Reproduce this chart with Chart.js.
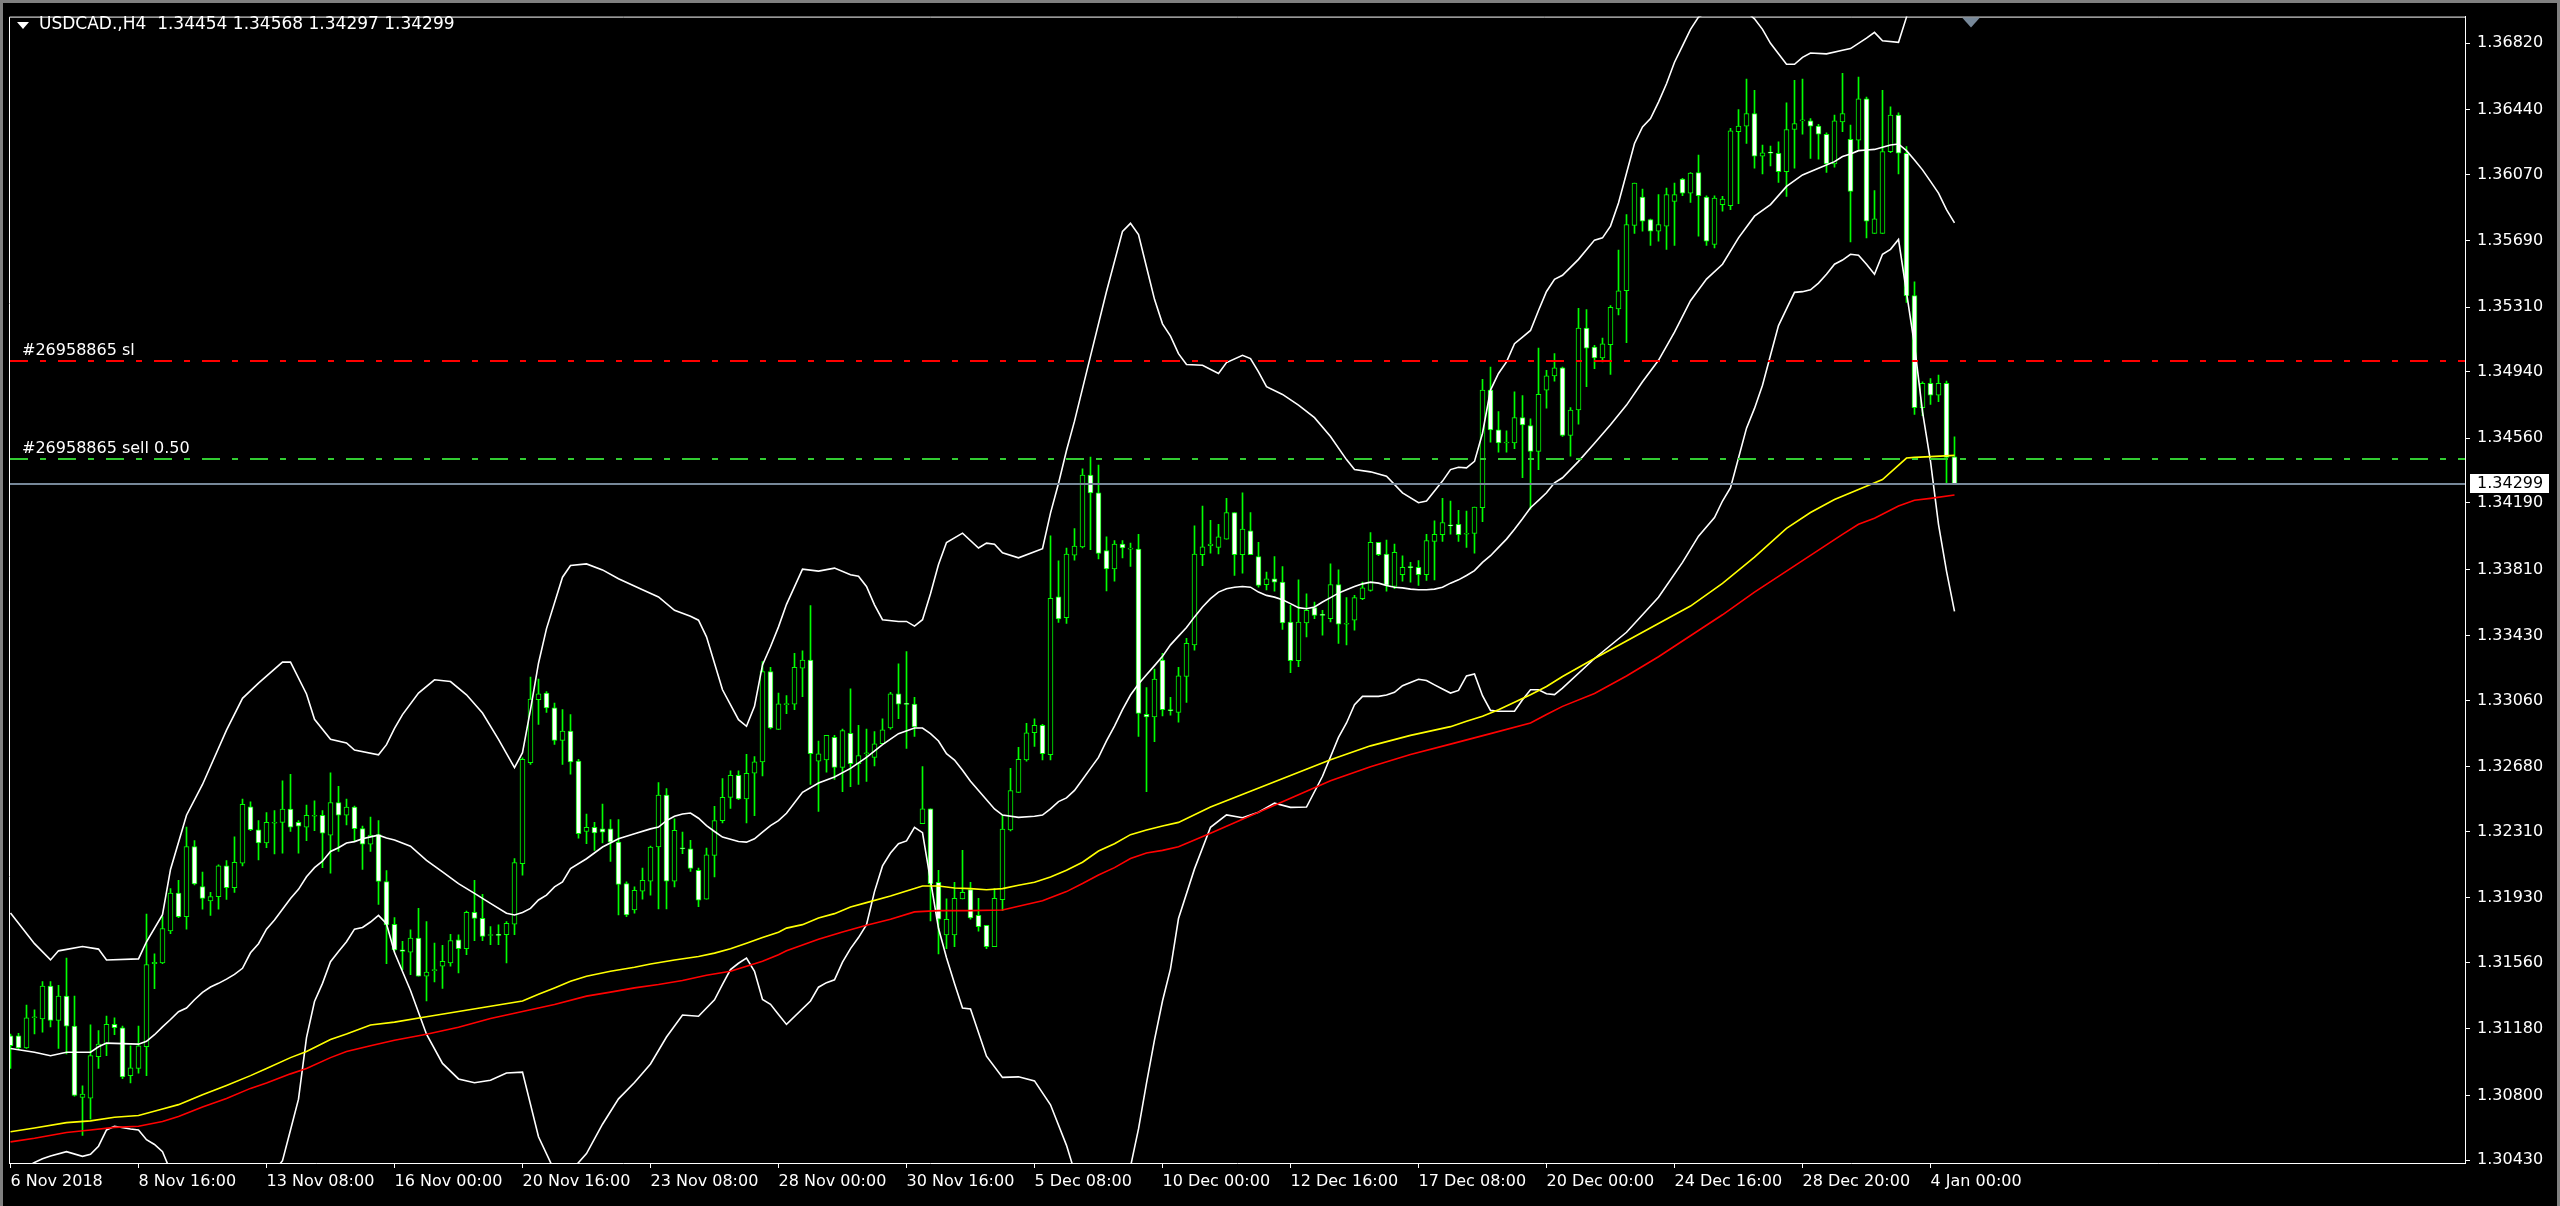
<!DOCTYPE html>
<html>
<head>
<meta charset="utf-8">
<title>USDCAD.,H4</title>
<script src="https://cdn.jsdelivr.net/npm/chart.js@4.4.1/dist/chart.umd.min.js"></script>
<style>
  html, body { margin: 0; padding: 0; background: #000; }
  canvas { display: block; }
</style>
</head>
<body>
<canvas id="chart" width="2560" height="1206"></canvas>
<script>
// header line of the chart window
const symbolTitle = "USDCAD.,H4";
const lastQuote = [1.34454, 1.34568, 1.34297, 1.34299];

// one label every 16 bars (H4)
const xTickLabels = ["6 Nov 2018", "8 Nov 16:00", "13 Nov 08:00", "16 Nov 00:00", "20 Nov 16:00", "23 Nov 08:00",
  "28 Nov 00:00", "30 Nov 16:00", "5 Dec 08:00", "10 Dec 00:00", "12 Dec 16:00", "17 Dec 08:00",
  "20 Dec 00:00", "24 Dec 16:00", "28 Dec 20:00", "4 Jan 00:00"];
const yTickValues = [1.36820, 1.36440, 1.36070, 1.35690, 1.35310, 1.34940, 1.34560, 1.34190, 1.33810,
  1.33430, 1.33060, 1.32680, 1.32310, 1.31930, 1.31560, 1.31180, 1.30800, 1.30430];

// candles, bar 0 = 6 Nov 2018 00:00
const opens = [1.31140,1.31140,1.31072,1.31244,1.31238,1.31426,1.31229,1.31368,1.31196,1.30788,
1.30784,1.31022,1.31093,1.31207,1.31186,1.30913,1.30954,1.31078,1.31554,1.31558,
1.31741,1.31958,1.31823,1.32223,1.31995,1.31912,1.31937,1.32113,1.31989,1.32128,
1.32451,1.32320,1.32244,1.32357,1.32362,1.32438,1.32362,1.32335,1.32397,1.32403,
1.32289,1.32476,1.32403,1.32449,1.32326,1.32237,1.32293,1.32024,1.31779,1.31633,
1.31620,1.31700,1.31482,1.31514,1.31539,1.31558,1.31690,1.31639,1.31847,1.31813,
1.31715,1.31722,1.31719,1.31779,1.32126,1.32704,1.33064,1.33102,1.33017,1.32831,
1.32884,1.32713,1.32310,1.32334,1.32325,1.32325,1.32249,1.32012,1.31861,1.31969,
1.32026,1.32221,1.32518,1.32026,1.32215,1.32211,1.32088,1.31923,1.32173,1.32372,
1.32505,1.32632,1.32496,1.32643,1.32708,1.33225,1.32894,1.33036,1.33039,1.33245,
1.33291,1.32713,1.32719,1.32849,1.32677,1.32871,1.32698,1.32755,1.32734,1.32812,
1.32902,1.33098,1.33039,1.33039,1.32355,1.32439,1.32019,1.31718,1.31718,1.31924,
1.31977,1.31830,1.31773,1.31651,1.31920,1.32319,1.32534,1.32719,1.32875,1.32917,
1.32749,1.33653,1.33533,1.33891,1.33939,1.34349,1.34248,1.33918,1.33813,1.33954,
1.33926,1.33926,1.32980,1.32965,1.33291,1.33007,1.32992,1.33197,1.33377,1.33894,
1.33945,1.33936,1.33983,1.34135,1.33894,1.34030,1.33883,1.33723,1.33756,1.33737,
1.33509,1.33288,1.33504,1.33591,1.33551,1.33528,1.33723,1.33496,1.33519,1.33642,
1.33689,1.33964,1.33898,1.33712,1.33780,1.33822,1.33822,1.33780,1.33970,1.34008,
1.34064,1.34068,1.34011,1.34015,1.34163,1.34836,1.34608,1.34533,1.34533,1.34678,
1.34633,1.34485,1.34836,1.34917,1.34963,1.34576,1.34722,1.35190,1.35082,1.35020,
1.35095,1.35300,1.35404,1.35778,1.35940,1.35812,1.35745,1.35774,1.35916,1.36043,
1.35963,1.36081,1.35940,1.35669,1.35897,1.35891,1.36314,1.36346,1.36418,1.36175,
1.36194,1.36191,1.36086,1.36327,1.36376,1.36376,1.36346,1.36300,1.36130,1.36371,
1.36270,1.36266,1.36503,1.35732,1.35732,1.36200,1.36409,1.36191,1.35376,1.34735,
1.34874,1.34807,1.34874,1.34454];
const highs = [1.31151,1.31155,1.31316,1.31289,1.31451,1.31451,1.31430,1.31585,1.31368,1.30855,
1.31203,1.31171,1.31254,1.31244,1.31196,1.31084,1.31196,1.31838,1.31610,1.31823,
1.31983,1.32030,1.32335,1.32258,1.32078,1.31962,1.32119,1.32144,1.32279,1.32496,
1.32480,1.32372,1.32418,1.32430,1.32600,1.32637,1.32372,1.32461,1.32486,1.32430,
1.32645,1.32569,1.32496,1.32455,1.32341,1.32393,1.32372,1.32086,1.31817,1.31681,
1.31747,1.31870,1.31794,1.31671,1.31658,1.31722,1.31719,1.31855,1.32031,1.31950,
1.31766,1.31776,1.31794,1.32155,1.32732,1.33193,1.33182,1.33111,1.33045,1.33007,
1.32979,1.32723,1.32410,1.32363,1.32467,1.32378,1.32378,1.32022,1.31993,1.32101,
1.32226,1.32590,1.32556,1.32382,1.32306,1.32259,1.32101,1.32215,1.32454,1.32613,
1.32657,1.32657,1.32751,1.32738,1.33282,1.33250,1.33102,1.33087,1.33329,1.33344,
1.33602,1.32828,1.32860,1.32860,1.32896,1.33127,1.32917,1.32896,1.32881,1.32955,
1.33106,1.33270,1.33339,1.33077,1.32681,1.32439,1.32088,1.31924,1.32019,1.32202,
1.32019,1.31928,1.31773,1.31983,1.32404,1.32671,1.32791,1.32929,1.32955,1.32923,
1.34002,1.33859,1.33932,1.34044,1.34385,1.34452,1.34406,1.33996,1.33975,1.33975,
1.33960,1.34010,1.33133,1.33239,1.33329,1.33077,1.33250,1.33415,1.34059,1.34172,
1.34091,1.34068,1.34216,1.34135,1.34248,1.34135,1.33964,1.33794,1.33883,1.33826,
1.33604,1.33750,1.33670,1.33623,1.33576,1.33841,1.33807,1.33648,1.33661,1.33737,
1.34021,1.33964,1.33977,1.33955,1.33888,1.33850,1.33860,1.34011,1.34087,1.34216,
1.34201,1.34148,1.34144,1.34167,1.34898,1.34968,1.34713,1.34603,1.34826,1.34804,
1.34671,1.35076,1.34949,1.35044,1.34968,1.34735,1.35304,1.35296,1.35092,1.35133,
1.35319,1.35637,1.35840,1.36020,1.35986,1.35815,1.35954,1.35992,1.36020,1.36048,
1.36081,1.36181,1.35948,1.35948,1.35944,1.36333,1.36441,1.36615,1.36551,1.36238,
1.36232,1.36257,1.36479,1.36608,1.36615,1.36390,1.36357,1.36308,1.36409,1.36649,
1.36352,1.36627,1.36513,1.35978,1.36551,1.36456,1.36422,1.36229,1.35455,1.34883,
1.34902,1.34921,1.34887,1.34568];
const lows = [1.30954,1.31064,1.31068,1.31151,1.31161,1.31192,1.31068,1.31037,1.30795,1.30571,
1.30664,1.30954,1.31027,1.31147,1.30896,1.30871,1.30927,1.30913,1.31410,1.31554,
1.31726,1.31817,1.31751,1.32004,1.31865,1.31830,1.31865,1.31921,1.31962,1.32113,
1.32314,1.32148,1.32217,1.32182,1.32186,1.32310,1.32186,1.32258,1.32314,1.32103,
1.32072,1.32196,1.32347,1.32258,1.32093,1.32196,1.31892,1.31554,1.31624,1.31520,
1.31491,1.31482,1.31340,1.31449,1.31412,1.31539,1.31501,1.31605,1.31685,1.31685,
1.31662,1.31662,1.31558,1.31719,1.32060,1.32694,1.32922,1.32992,1.32808,1.32694,
1.32638,1.32272,1.32240,1.32202,1.32245,1.32139,1.31832,1.31823,1.31842,1.31923,
1.31946,1.31867,1.31867,1.31993,1.32183,1.32082,1.31880,1.31923,1.32050,1.32359,
1.32442,1.32492,1.32359,1.32401,1.32628,1.32897,1.32894,1.32984,1.33007,1.33081,
1.32580,1.32425,1.32650,1.32608,1.32538,1.32566,1.32580,1.32597,1.32685,1.32812,
1.32896,1.32955,1.32786,1.32854,1.32355,1.31798,1.31609,1.31640,1.31651,1.31924,
1.31808,1.31739,1.31640,1.31651,1.31857,1.32313,1.32534,1.32713,1.32797,1.32719,
1.32719,1.33506,1.33501,1.33863,1.33932,1.33922,1.33869,1.33686,1.33743,1.33876,
1.33827,1.32854,1.32538,1.32824,1.32971,1.32976,1.32935,1.33049,1.33348,1.33831,
1.33902,1.33898,1.33983,1.33775,1.33788,1.33894,1.33708,1.33693,1.33685,1.33466,
1.33219,1.33253,1.33424,1.33528,1.33434,1.33509,1.33386,1.33377,1.33462,1.33636,
1.33685,1.33888,1.33685,1.33699,1.33742,1.33737,1.33718,1.33746,1.33750,1.33970,
1.34011,1.33970,1.33936,1.33902,1.34083,1.34538,1.34481,1.34481,1.34500,1.34334,
1.34154,1.34381,1.34732,1.34887,1.34571,1.34457,1.34641,1.34855,1.34959,1.34997,
1.34925,1.35266,1.35107,1.35732,1.35745,1.35664,1.35688,1.35641,1.35664,1.35948,
1.35910,1.35717,1.35664,1.35650,1.35859,1.35868,1.35903,1.36247,1.36105,1.36073,
1.36119,1.36024,1.35944,1.36105,1.36300,1.36162,1.36157,1.36081,1.36111,1.36314,
1.35683,1.36213,1.35707,1.35732,1.35732,1.36194,1.36073,1.35338,1.34697,1.34690,
1.34754,1.34769,1.34299,1.34297];
const closes = [1.31084,1.31072,1.31244,1.31250,1.31426,1.31229,1.31368,1.31196,1.30799,1.30807,
1.31027,1.31093,1.31207,1.31188,1.30906,1.30958,1.31084,1.31548,1.31561,1.31755,
1.31958,1.31823,1.32223,1.32010,1.31927,1.31937,1.32113,1.31989,1.32134,1.32465,
1.32320,1.32244,1.32362,1.32362,1.32438,1.32335,1.32341,1.32403,1.32403,1.32300,
1.32476,1.32403,1.32449,1.32326,1.32237,1.32289,1.32024,1.31776,1.31633,1.31624,
1.31700,1.31482,1.31506,1.31520,1.31567,1.31686,1.31639,1.31847,1.31813,1.31709,
1.31717,1.31715,1.31785,1.32132,1.32723,1.33068,1.33098,1.33017,1.32831,1.32884,
1.32708,1.32297,1.32334,1.32302,1.32306,1.32249,1.32007,1.31832,1.31974,1.32031,
1.32221,1.32518,1.32026,1.32316,1.32211,1.32098,1.31917,1.32177,1.32372,1.32505,
1.32632,1.32496,1.32643,1.32708,1.33225,1.32903,1.33041,1.33041,1.33249,1.33291,
1.32755,1.32755,1.32860,1.32677,1.32887,1.32698,1.32744,1.32759,1.32812,1.32892,
1.33098,1.33039,1.33037,1.32908,1.32439,1.32012,1.31808,1.31808,1.31928,1.31962,
1.31815,1.31766,1.31651,1.31928,1.32324,1.32544,1.32723,1.32875,1.32917,1.32755,
1.33644,1.33527,1.33897,1.33943,1.34349,1.34248,1.33901,1.33813,1.33954,1.33932,
1.33928,1.32986,1.32965,1.33182,1.33007,1.33001,1.33200,1.33386,1.33898,1.33939,
1.33955,1.33996,1.34135,1.33894,1.34040,1.33894,1.33718,1.33756,1.33737,1.33504,
1.33288,1.33509,1.33576,1.33547,1.33547,1.33723,1.33496,1.33498,1.33648,1.33704,
1.33964,1.33894,1.33718,1.33907,1.33822,1.33820,1.33780,1.33974,1.34011,1.34078,
1.34059,1.34008,1.34013,1.34167,1.34836,1.34608,1.34533,1.34535,1.34678,1.34637,
1.34485,1.34811,1.34917,1.34963,1.34576,1.34722,1.35190,1.35076,1.35020,1.35101,
1.35309,1.35404,1.35783,1.36020,1.35802,1.35745,1.35783,1.35954,1.35954,1.35963,
1.36077,1.35948,1.35688,1.35935,1.35929,1.36319,1.36346,1.36418,1.36175,1.36194,
1.36192,1.36086,1.36327,1.36361,1.36380,1.36346,1.36300,1.36130,1.36376,1.36418,
1.35973,1.36503,1.35802,1.35816,1.36200,1.36409,1.36191,1.35376,1.34735,1.34874,
1.34807,1.34874,1.34451,1.34299];

// indicators as [bar, price]
const bbUpper = [[0,1.31844],[3,1.31668],[5,1.31575],[6,1.31627],[9,1.31652],[11,1.31637],[12,1.31575],[16,1.31581],
[17,1.31679],[19,1.31834],[20,1.32093],[22,1.32403],[24,1.32579],[27,1.32890],[29,1.33072],[31,1.33159],[34,1.33279],
[35,1.33279],[37,1.33097],[38,1.32952],[40,1.32838],[42,1.32817],[43,1.32776],[46,1.32749],[47,1.32807],[48,1.32900],
[49,1.32979],[51,1.33102],[53,1.33178],[55,1.33168],[57,1.33092],[59,1.32988],[61,1.32837],[63,1.32676],[64,1.32761],
[65,1.33007],[66,1.33273],[67,1.33471],[69,1.33765],[70,1.33832],[72,1.33841],[74,1.33807],[76,1.33756],[79,1.33693],
[81,1.33652],[83,1.33576],[85,1.33542],[86,1.33519],[87,1.33424],[88,1.33273],[89,1.33121],[91,1.32950],[92,1.32912],
[93,1.33026],[94,1.33263],[95,1.33367],[96,1.33481],[97,1.33610],[99,1.33811],[101,1.33800],[103,1.33817],[105,1.33779],
[106,1.33771],[107,1.33712],[108,1.33607],[109,1.33522],[111,1.33512],[112,1.33512],[113,1.33485],[114,1.33522],
[115,1.33670],[116,1.33838],[117,1.33964],[119,1.34017],[121,1.33932],[122,1.33960],[123,1.33954],[124,1.33905],
[126,1.33876],[128,1.33911],[129,1.33928],[130,1.34132],[131,1.34301],[132,1.34490],[133,1.34658],[135,1.35030],
[137,1.35400],[139,1.35744],[140,1.35790],[141,1.35726],[142,1.35540],[143,1.35355],[144,1.35215],[145,1.35145],
[146,1.35044],[147,1.34982],[149,1.34978],[151,1.34931],[152,1.34993],[154,1.35035],[155,1.35016],[156,1.34940],
[157,1.34855],[159,1.34811],[161,1.34750],[163,1.34678],[165,1.34570],[167,1.34438],[168,1.34381],[170,1.34368],
[172,1.34343],[174,1.34248],[176,1.34191],[177,1.34201],[178,1.34258],[179,1.34315],[180,1.34381],[181,1.34394],
[182,1.34391],[183,1.34428],[184,1.34589],[185,1.34836],[186,1.34931],[187,1.34997],[188,1.35101],[189,1.35139],
[190,1.35177],[191,1.35291],[192,1.35400],[193,1.35470],[194,1.35493],[196,1.35584],[198,1.35694],[199,1.35707],
[200,1.35774],[201,1.35906],[202,1.36077],[203,1.36247],[204,1.36342],[205,1.36390],[206,1.36484],[207,1.36589],
[208,1.36712],[209,1.36806],[210,1.36900],[211,1.36970],[213,1.37020],[215,1.37030],[217,1.37000],[218,1.36960],
[219,1.36900],[220,1.36820],[221,1.36760],[222,1.36700],[223,1.36700],[224,1.36740],[225,1.36765],[227,1.36760],
[229,1.36780],[230,1.36790],[232,1.36850],[233,1.36883],[234,1.36835],[236,1.36826],[237,1.36970],[238,1.37200],
[239,1.37450],[240,1.37600],[241,1.37800],[243,1.38000]];
const bbMiddle = [[0,1.31068],[3,1.31047],[5,1.31027],[7,1.31047],[10,1.31047],[11,1.31078],[12,1.31099],[16,1.31093],
[17,1.31109],[18,1.31147],[19,1.31192],[20,1.31234],[21,1.31279],[22,1.31300],[23,1.31347],[24,1.31389],[25,1.31420],
[26,1.31441],[27,1.31465],[28,1.31492],[29,1.31527],[30,1.31616],[31,1.31668],[32,1.31751],[33,1.31803],[34,1.31865],
[35,1.31927],[36,1.31979],[37,1.32051],[38,1.32103],[39,1.32140],[40,1.32196],[41,1.32217],[42,1.32244],[43,1.32252],
[44,1.32269],[45,1.32279],[46,1.32289],[47,1.32273],[48,1.32261],[50,1.32226],[52,1.32145],[54,1.32079],[56,1.32012],
[58,1.31956],[60,1.31899],[62,1.31842],[63,1.31832],[64,1.31847],[65,1.31870],[66,1.31918],[67,1.31946],[68,1.31993],
[69,1.32022],[70,1.32098],[72,1.32154],[74,1.32221],[76,1.32268],[78,1.32297],[80,1.32325],[81,1.32335],[82,1.32372],
[83,1.32397],[84,1.32410],[85,1.32416],[86,1.32386],[87,1.32344],[88,1.32310],[89,1.32278],[91,1.32253],[92,1.32249],
[93,1.32268],[94,1.32306],[95,1.32344],[96,1.32372],[97,1.32414],[99,1.32534],[101,1.32587],[103,1.32622],[105,1.32671],
[107,1.32734],[109,1.32807],[111,1.32870],[113,1.32902],[114,1.32902],[115,1.32870],[116,1.32828],[117,1.32755],
[118,1.32719],[119,1.32660],[120,1.32597],[121,1.32545],[122,1.32492],[123,1.32439],[124,1.32404],[126,1.32391],
[128,1.32397],[129,1.32404],[130,1.32439],[131,1.32481],[132,1.32502],[133,1.32545],[134,1.32608],[135,1.32671],
[136,1.32734],[137,1.32828],[138,1.32913],[139,1.33007],[140,1.33091],[141,1.33154],[142,1.33207],[143,1.33259],
[144,1.33312],[145,1.33378],[146,1.33428],[147,1.33477],[148,1.33538],[149,1.33595],[150,1.33642],[151,1.33680],
[152,1.33699],[153,1.33708],[154,1.33712],[155,1.33708],[156,1.33680],[157,1.33661],[158,1.33651],[159,1.33636],
[160,1.33614],[161,1.33591],[162,1.33585],[163,1.33595],[164,1.33623],[165,1.33648],[166,1.33674],[167,1.33693],
[168,1.33712],[169,1.33727],[170,1.33737],[171,1.33731],[172,1.33718],[173,1.33708],[174,1.33704],[175,1.33697],
[176,1.33693],[177,1.33693],[178,1.33697],[179,1.33708],[180,1.33731],[181,1.33750],[182,1.33775],[183,1.33803],
[184,1.33850],[185,1.33888],[186,1.33936],[187,1.33983],[188,1.34040],[189,1.34100],[190,1.34163],[191,1.34205],
[192,1.34248],[193,1.34305],[194,1.34334],[196,1.34428],[198,1.34532],[200,1.34637],[202,1.34750],[204,1.34883],
[206,1.35006],[208,1.35167],[210,1.35347],[212,1.35471],[214,1.35556],[216,1.35707],[218,1.35831],[220,1.35897],
[222,1.36001],[224,1.36067],[226,1.36105],[228,1.36143],[229,1.36172],[230,1.36187],[231,1.36206],[232,1.36210],
[233,1.36213],[234,1.36225],[235,1.36238],[236,1.36244],[237,1.36206],[238,1.36153],[239,1.36096],[240,1.36030],
[241,1.35963],[242,1.35868],[243,1.35793]];
const bbLower = [[0,1.30300],[2,1.30390],[3,1.30416],[4,1.30437],[5,1.30453],[7,1.30478],[9,1.30451],[10,1.30463],
[11,1.30509],[12,1.30602],[13,1.30623],[15,1.30608],[16,1.30602],[17,1.30546],[18,1.30519],[19,1.30478],[20,1.30368],
[22,1.30200],[24,1.30199],[27,1.30040],[29,1.30010],[31,1.30177],[33,1.30370],[34,1.30426],[35,1.30602],[36,1.30778],
[37,1.31130],[38,1.31337],[39,1.31441],[40,1.31565],[41,1.31623],[42,1.31679],[43,1.31751],[44,1.31761],[45,1.31792],
[46,1.31830],[47,1.31782],[48,1.31617],[50,1.31400],[52,1.31150],[54,1.30983],[56,1.30894],[58,1.30872],[60,1.30886],
[62,1.30928],[64,1.30933],[66,1.30563],[68,1.30368],[70,1.30364],[72,1.30467],[74,1.30635],[76,1.30780],[78,1.30874],
[80,1.30980],[82,1.31134],[84,1.31260],[86,1.31253],[88,1.31347],[89,1.31435],[90,1.31520],[91,1.31556],[92,1.31586],
[93,1.31510],[94,1.31349],[95,1.31321],[96,1.31263],[97,1.31206],[100,1.31340],[101,1.31419],[102,1.31445],
[103,1.31461],[104,1.31562],[105,1.31640],[106,1.31703],[107,1.31777],[108,1.31966],[109,1.32113],[110,1.32187],
[111,1.32240],[112,1.32256],[113,1.32334],[114,1.32303],[115,1.32029],[116,1.31756],[117,1.31588],[118,1.31440],
[119,1.31300],[120,1.31294],[122,1.31024],[124,1.30903],[126,1.30906],[128,1.30883],[130,1.30746],[132,1.30514],
[134,1.30216],[136,1.30100],[138,1.30150],[140,1.30392],[141,1.30608],[142,1.30870],[143,1.31118],[144,1.31340],
[145,1.31524],[146,1.31812],[148,1.32096],[150,1.32334],[152,1.32405],[154,1.32389],[156,1.32420],[158,1.32472],
[160,1.32448],[162,1.32450],[164,1.32626],[166,1.32848],[167,1.32931],[168,1.33035],[169,1.33083],[171,1.33083],
[172,1.33091],[173,1.33106],[174,1.33144],[175,1.33163],[176,1.33181],[177,1.33174],[178,1.33149],[179,1.33125],
[180,1.33102],[181,1.33117],[182,1.33200],[183,1.33212],[184,1.33087],[185,1.33003],[186,1.32998],[188,1.32998],
[189,1.33064],[190,1.33121],[191,1.33121],[192,1.33098],[193,1.33093],[194,1.33130],[198,1.33300],[202,1.33450],
[206,1.33650],[209,1.33850],[211,1.34000],[213,1.34106],[214,1.34201],[215,1.34277],[216,1.34447],[217,1.34618],
[218,1.34731],[219,1.34864],[220,1.35035],[221,1.35205],[222,1.35300],[223,1.35395],[224,1.35399],[225,1.35410],
[226,1.35448],[227,1.35499],[228,1.35556],[229,1.35580],[230,1.35613],[231,1.35607],[232,1.35556],[233,1.35499],
[234,1.35613],[235,1.35641],[236,1.35698],[237,1.35395],[238,1.35092],[239,1.34713],[240,1.34428],[241,1.34068],
[242,1.33800],[243,1.33570]];
const maYellow = [[0,1.30592],[3,1.30613],[7,1.30644],[10,1.30654],[13,1.30675],[16,1.30685],[19,1.30722],[21,1.30747],
[24,1.30803],[27,1.30857],[30,1.30913],[32,1.30954],[35,1.31016],[37,1.31051],[40,1.31120],[42,1.31151],[45,1.31203],
[48,1.31219],[52,1.31250],[56,1.31280],[60,1.31310],[64,1.31340],[66,1.31378],[68,1.31415],[70,1.31453],[72,1.31482],
[75,1.31510],[78,1.31533],[80,1.31552],[83,1.31575],[86,1.31595],[88,1.31614],[90,1.31639],[92,1.31671],[94,1.31703],
[96,1.31734],[97,1.31757],[99,1.31777],[101,1.31815],[103,1.31840],[105,1.31878],[107,1.31903],[110,1.31941],
[112,1.31970],[114,1.31998],[116,1.31998],[118,1.31987],[120,1.31983],[122,1.31977],[124,1.31983],[126,1.32002],
[128,1.32019],[130,1.32050],[132,1.32088],[134,1.32134],[136,1.32198],[138,1.32240],[140,1.32292],[142,1.32318],
[144,1.32341],[146,1.32362],[150,1.32450],[155,1.32540],[160,1.32630],[165,1.32720],[170,1.32800],[175,1.32860],
[180,1.32910],[182,1.32941],[184,1.32969],[186,1.33007],[188,1.33049],[190,1.33092],[192,1.33140],[194,1.33197],
[198,1.33300],[202,1.33400],[206,1.33500],[210,1.33600],[214,1.33730],[218,1.33880],[222,1.34045],[225,1.34135],
[228,1.34210],[231,1.34267],[234,1.34324],[237,1.34447],[238,1.34451],[240,1.34455],[243,1.34462]];
const maRed = [[0,1.30534],[3,1.30555],[7,1.30588],[10,1.30602],[13,1.30617],[16,1.30623],[19,1.30650],[21,1.30679],
[24,1.30733],[27,1.30782],[30,1.30840],[32,1.30871],[35,1.30923],[37,1.30954],[40,1.31016],[42,1.31051],[45,1.31084],
[48,1.31115],[52,1.31150],[56,1.31190],[60,1.31240],[64,1.31280],[68,1.31320],[72,1.31368],[75,1.31391],[78,1.31415],
[81,1.31434],[84,1.31457],[87,1.31487],[90,1.31510],[92,1.31539],[94,1.31567],[96,1.31605],[97,1.31627],[99,1.31661],
[101,1.31693],[104,1.31735],[107,1.31773],[110,1.31808],[113,1.31850],[116,1.31857],[120,1.31857],[124,1.31861],
[126,1.31882],[129,1.31914],[132,1.31966],[134,1.32012],[136,1.32061],[138,1.32103],[140,1.32155],[142,1.32187],
[144,1.32202],[146,1.32223],[150,1.32300],[155,1.32400],[160,1.32500],[165,1.32600],[170,1.32680],[175,1.32750],
[180,1.32810],[185,1.32870],[190,1.32931],[192,1.32979],[194,1.33026],[198,1.33100],[202,1.33200],[206,1.33310],
[210,1.33430],[214,1.33550],[218,1.33680],[222,1.33800],[226,1.33920],[229,1.34010],[231,1.34068],[233,1.34102],
[236,1.34172],[238,1.34205],[240,1.34216],[243,1.34235]];

// open order and current bid
const orderTicket = "#26958865";
const slPrice = 1.35000;
const sellPrice = 1.34440;
const sellLots = "0.50";
const bidPrice = 1.34299;

const FONT = '"DejaVu Sans", Arial, sans-serif';
const LIME = "#00ff00";

const toPts = arr => arr.map(([k, v]) => ({ x: k, y: v }));
const lineSet = (label, arr, color) => ({
  type: "line", label, data: toPts(arr), borderColor: color, borderWidth: 1.6,
  pointRadius: 0, tension: 0, fill: false, order: 0
});

const bars = opens.map((o, i) => i);

// everything MT4 draws that is not a series
const mtDecor = {
  id: "mtDecor",
  beforeDraw(chart) {
    const c = chart.ctx;
    c.save();
    c.fillStyle = "#000";
    c.fillRect(0, 0, chart.width, chart.height);
    c.fillStyle = "#808080";
    c.fillRect(0, 0, chart.width, 3);
    c.fillRect(0, 0, 3, chart.height);
    c.fillRect(chart.width - 3, 0, 3, chart.height);
    c.restore();
  },
  afterDatasetsDraw(chart) {
    const c = chart.ctx;
    const a = chart.chartArea;
    const y = chart.scales.y;
    const x = chart.scales.x;
    c.save();

    // frame top and left
    c.strokeStyle = "#fff";
    c.lineWidth = 1;
    c.beginPath();
    c.moveTo(a.left + 0.5, a.bottom);
    c.lineTo(a.left + 0.5, a.top + 0.5);
    c.lineTo(a.right, a.top + 0.5);
    c.stroke();

    // order and bid lines, 2px like the screenshot
    c.lineWidth = 2;
    const hline = (price, color, dash) => {
      const py = Math.round(y.getPixelForValue(price));
      c.strokeStyle = color;
      c.setLineDash(dash);
      c.beginPath();
      c.moveTo(a.left + 1, py);
      c.lineTo(a.right, py);
      c.stroke();
      return py;
    };
    const slY = hline(slPrice, "#ff0000", [18, 12, 6, 12]);
    const sellY = hline(sellPrice, "#32cd32", [18, 12, 6, 12]);
    const bidY = hline(bidPrice, "#778899", []);
    c.setLineDash([]);

    c.fillStyle = "#fff";
    c.font = "16px " + FONT;
    c.textBaseline = "alphabetic";
    c.textAlign = "left";
    c.fillText(orderTicket + " sl", 22, slY - 6);
    c.fillText(orderTicket + " sell " + sellLots, 22, sellY - 6);

    // title
    c.font = "17px " + FONT;
    c.textBaseline = "middle";
    c.fillText(symbolTitle + "  " + lastQuote.map(v => v.toFixed(5)).join(" "), 39, 25);
    c.beginPath();
    c.moveTo(17, 22); c.lineTo(29, 22); c.lineTo(23, 29); c.closePath();
    c.fill();

    // chart shift marker
    const sx = Math.round(x.getPixelForValue(opens.length + 1));
    c.fillStyle = "#778899";
    c.beginPath();
    c.moveTo(sx - 9, a.top + 1); c.lineTo(sx + 9, a.top + 1); c.lineTo(sx, a.top + 11); c.closePath();
    c.fill();

    // bid price box on the axis
    c.fillStyle = "#fff";
    c.fillRect(a.right + 5, bidY - 10, 79, 19);
    c.fillStyle = "#000";
    c.font = "16px " + FONT;
    c.textBaseline = "middle";
    c.fillText(bidPrice.toFixed(5), a.right + 12, bidY);
    c.restore();
  }
};

const ctx = document.getElementById("chart").getContext("2d");
new Chart(ctx, {
  type: "bar",
  data: {
    datasets: [
      lineSet("MA yellow", maYellow, "#ffff00"),
      lineSet("MA red", maRed, "#ff0000"),
      lineSet("BB upper", bbUpper, "#ffffff"),
      lineSet("BB middle", bbMiddle, "#ffffff"),
      lineSet("BB lower", bbLower, "#ffffff"),
      {
        type: "bar", label: "body",
        data: bars.map(i => ({ x: i, y: [opens[i], closes[i]] })),
        backgroundColor: bars.map(i => closes[i] < opens[i] ? "#ffffff" : "#000000"),
        borderColor: LIME, borderWidth: 1, borderSkipped: false,
        barThickness: 5, grouped: false, minBarLength: 1, order: 1
      },
      {
        type: "bar", label: "wick",
        data: bars.map(i => ({ x: i, y: [lows[i], highs[i]] })),
        backgroundColor: LIME, borderWidth: 0,
        barThickness: 1, grouped: false, order: 2
      }
    ]
  },
  options: {
    responsive: false,
    maintainAspectRatio: false,
    animation: false,
    devicePixelRatio: 1,
    layout: { padding: { left: 9, top: 9, right: 0, bottom: 0 } },
    plugins: { legend: { display: false }, tooltip: { enabled: false } },
    scales: {
      x: {
        type: "linear",
        min: -0.1875,
        max: 306.8125,
        offset: false,
        afterBuildTicks: s => { s.ticks = xTickLabels.map((t, i) => ({ value: i * 16 })); },
        afterFit: s => { s.height = 43; },
        grid: { offset: false, drawOnChartArea: false, drawTicks: true, tickLength: 5, color: "#ffffff" },
        border: { display: true, color: "#ffffff", width: 1 },
        ticks: {
          autoSkip: false, maxRotation: 0, align: "start", padding: 4,
          color: "#ffffff", font: { family: FONT, size: 16 },
          callback: v => xTickLabels[Math.round(v / 16)] || ""
        }
      },
      y: {
        position: "right",
        min: 1.30413,
        max: 1.36973,
        afterBuildTicks: s => { s.ticks = yTickValues.map(v => ({ value: v })); },
        afterFit: s => { s.width = 95; },
        grid: { drawOnChartArea: false, drawTicks: true, tickLength: 5, color: "#ffffff" },
        border: { display: true, color: "#ffffff", width: 1 },
        ticks: {
          autoSkip: false, padding: 7, color: "#ffffff",
          font: { family: FONT, size: 16 },
          callback: v => v.toFixed(5)
        }
      }
    }
  },
  plugins: [mtDecor]
});
</script>
</body>
</html>
